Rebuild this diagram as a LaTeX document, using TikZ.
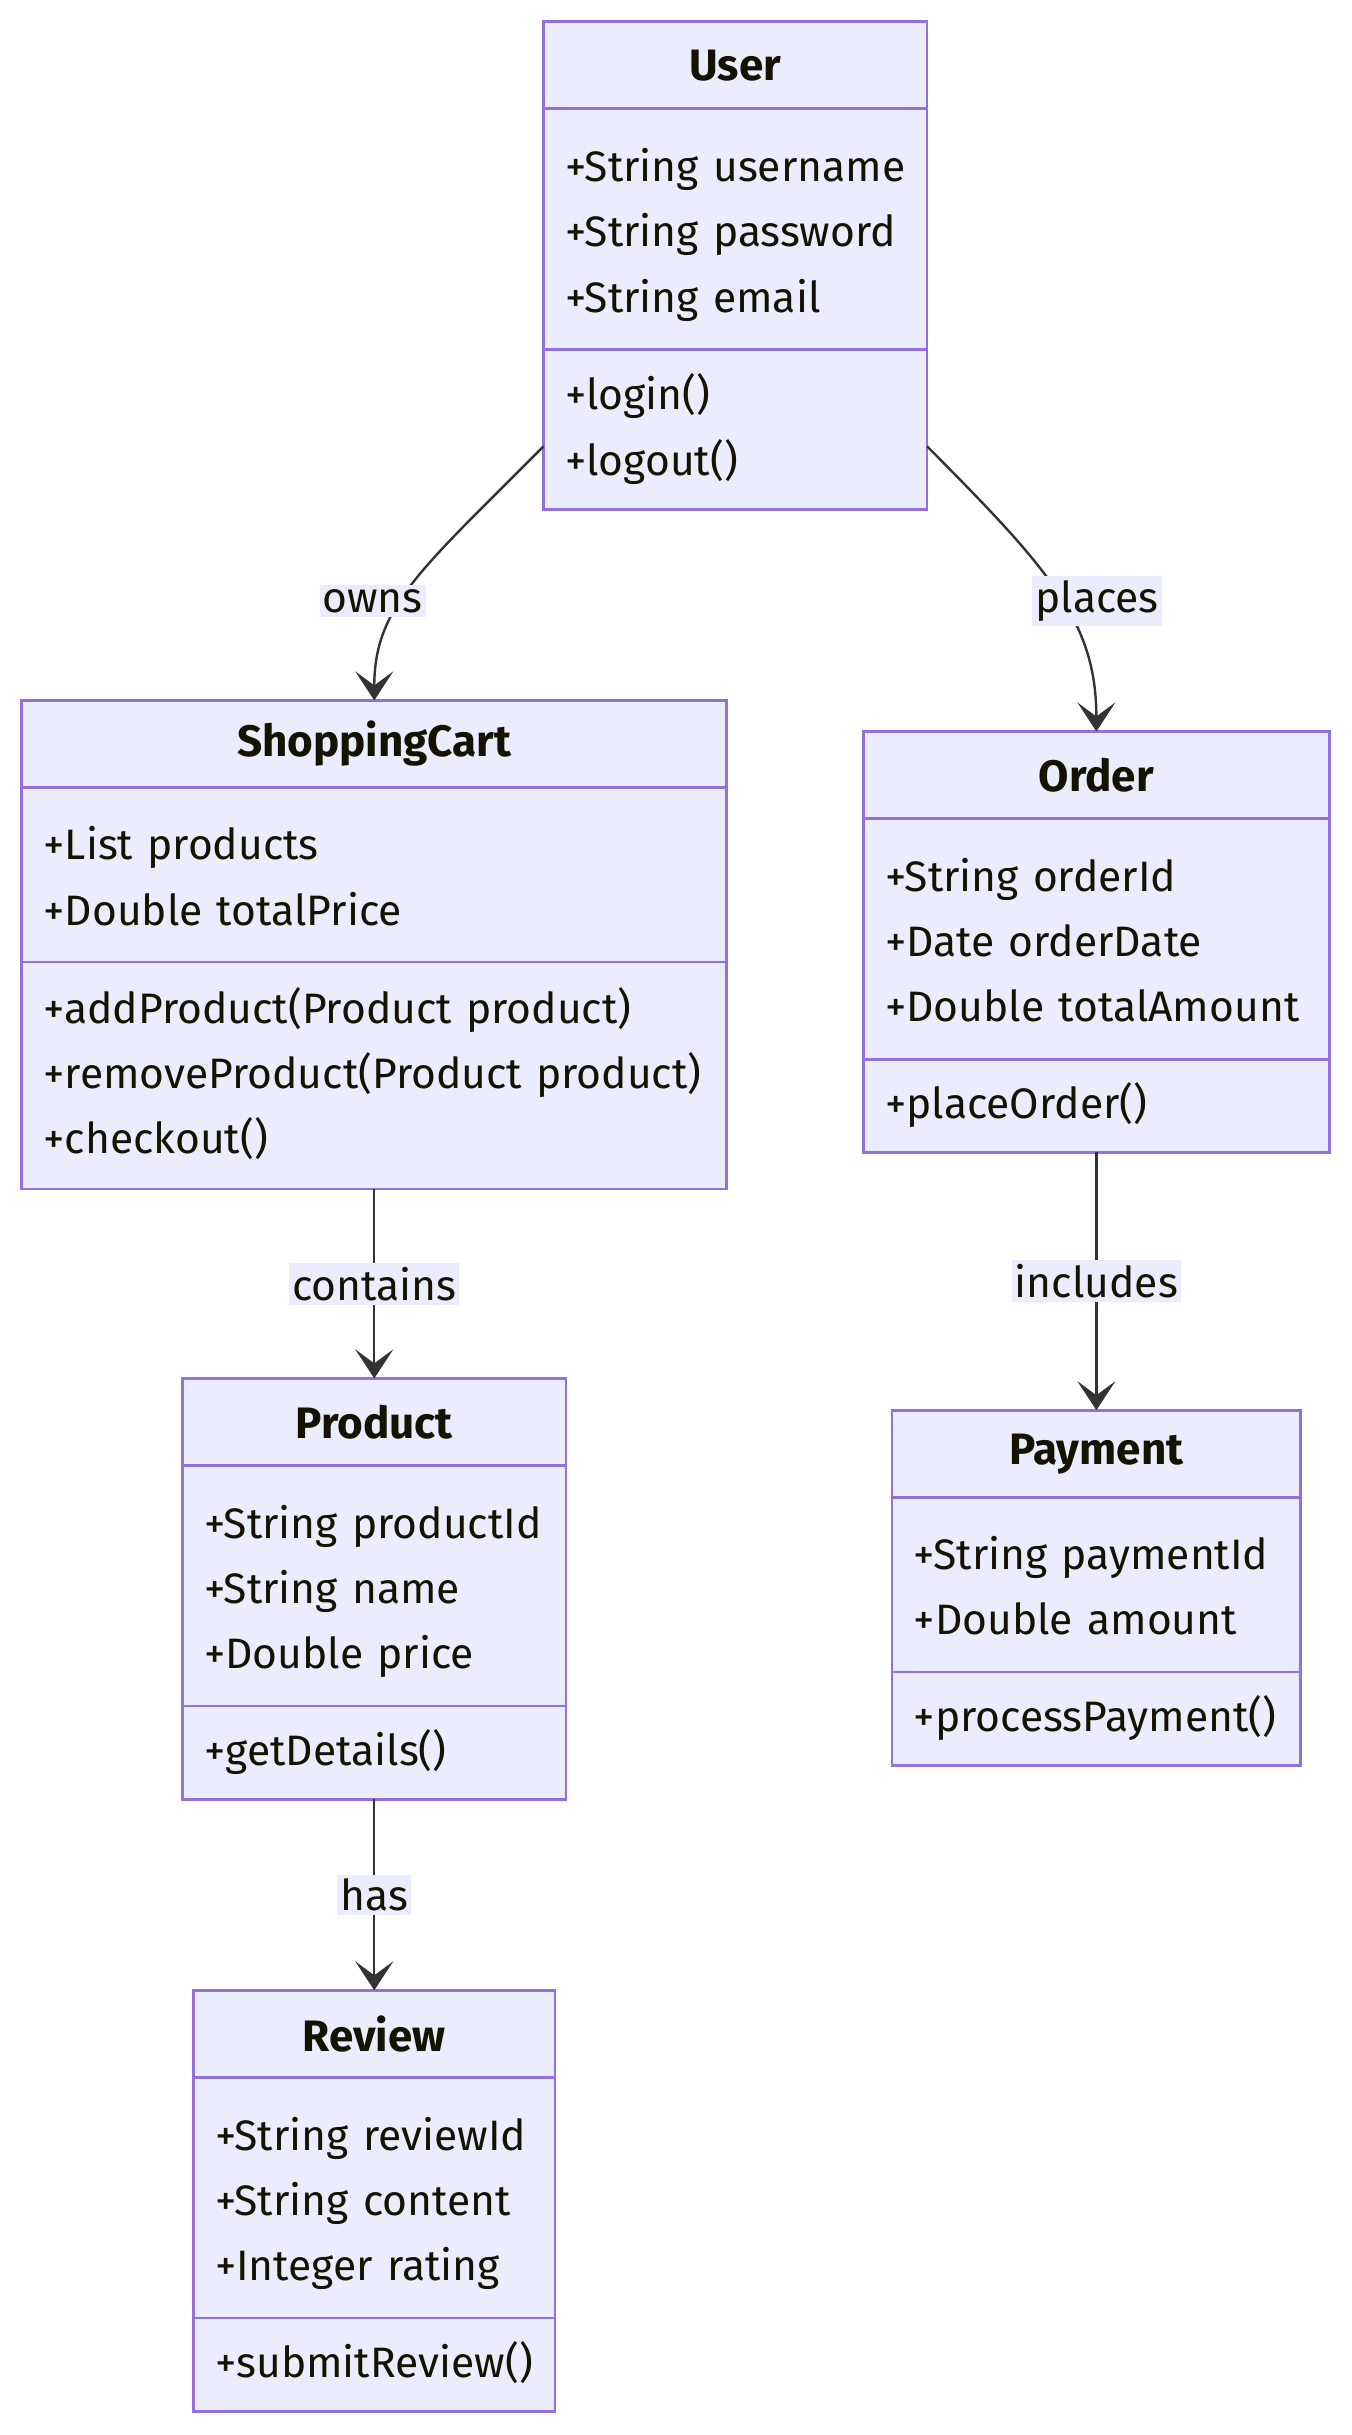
\documentclass[tikz,border=0pt]{standalone}
\usepackage{fontspec}
\setmainfont{Fira Sans}
\usetikzlibrary{positioning, arrows.meta}

\definecolor{classfill}{HTML}{ECECFF}
\definecolor{classline}{HTML}{9370DB}
\definecolor{edgeline}{HTML}{333333}
\definecolor{classtext}{HTML}{131300}

\newcommand{\classfont}{\fontsize{21.3}{32.6}\selectfont}
\newcommand{\headfont}{\fontsize{22}{32.6}\selectfont\bfseries}
% one member per row, never broken
\newcommand{\members}[1]{\begin{tabular}{@{}l@{}}#1\end{tabular}}
% attributes sit a little lower
\newcommand{\attrs}[1]{\members{\rule{0pt}{27.5pt}#1}}

\begin{document}
\begin{tikzpicture}[x=0.7765pt, y=-0.7765pt,
    every node/.style={text=classtext, font=\classfont, outer sep=0pt},
    head/.style={draw=classline, fill=classfill, line width=1.3pt, minimum height=43.5pt, font=\headfont, anchor=north},
    part/.style={draw=classline, fill=classfill, line width=1.3pt, align=left, inner xsep=10.9pt, inner ysep=0pt},
    assoc/.style={draw=edgeline, line width=1.2pt, -{Stealth[length=14.5pt, width=19pt, inset=7pt]}},
    lbl/.style={fill=classfill, inner xsep=1.5pt, inner ysep=2pt}]
    \fill[white] (0,0) rectangle (870,1568);

    % classes
    \node [head, minimum width=191.8pt] (user) at (473.5,14) {User};
    \node [part, below=0pt of user, text width=170pt, minimum height=120.4pt] (user-attr) {\attrs{+String username\\+String password\\+String email}};
    \node [part, below=0pt of user-attr, text width=170pt, minimum height=80pt] (user-ops) {\members{+login()\\+logout()}};

    \node [head, minimum width=352.5pt] (cart) at (241,451) {ShoppingCart};
    \node [part, below=0pt of cart, text width=330.7pt, minimum height=87.4pt] (cart-attr) {\attrs{+List products\\+Double totalPrice}};
    \node [part, below=0pt of cart-attr, text width=330.7pt, minimum height=113.4pt] (cart-ops) {\members{+addProduct(Product product)\\+removeProduct(Product product)\\+checkout()}};

    \node [head, minimum width=233pt] (order) at (706,471) {Order};
    \node [part, below=0pt of order, text width=211.2pt, minimum height=120.4pt] (order-attr) {\attrs{+String orderId\\+Date orderDate\\+Double totalAmount}};
    \node [part, below=0pt of order-attr, text width=211.2pt, minimum height=46.6pt] (order-ops) {\members{+placeOrder()}};

    \node [head, minimum width=191.8pt, below=94.7pt of cart-ops] (product) {Product};
    \node [part, below=0pt of product, text width=170pt, minimum height=120.4pt] (product-attr) {\attrs{+String productId\\+String name\\+Double price}};
    \node [part, below=0pt of product-attr, text width=170pt, minimum height=46.6pt] (product-ops) {\members{+getDetails()}};

    \node [head, minimum width=204.2pt, below=128.9pt of order-ops] (payment) {Payment};
    \node [part, below=0pt of payment, text width=182.4pt, minimum height=87.4pt] (payment-attr) {\attrs{+String paymentId\\+Double amount}};
    \node [part, below=0pt of payment-attr, text width=182.4pt, minimum height=46.6pt] (payment-ops) {\members{+processPayment()}};

    \node [head, minimum width=180.9pt, below=95.5pt of product-ops] (review) {Review};
    \node [part, below=0pt of review, text width=159.1pt, minimum height=120.4pt] (review-attr) {\attrs{+String reviewId\\+String content\\+Integer rating}};
    \node [part, below=0pt of review-attr, text width=159.1pt, minimum height=46.6pt] (review-ops) {\members{+submitReview()}};

    % associations
    \draw [assoc] (user-ops.185) .. controls (272,366) and (241,390) .. (cart.north);
    \draw [assoc] (user-ops.355) .. controls (675,366) and (706,400) .. (order.north);
    \node [lbl] (owns) at (240,387) {owns};
    \node [lbl] (places) at (706.5,387) {places};
    \draw [assoc] (cart-ops) -- node [lbl] (contains) {contains} (product);
    \draw [assoc] (order-ops) -- node [lbl] (includes) {includes} (payment);
    \draw [assoc] (product-ops) -- node [lbl] (has) {has} (review);
\end{tikzpicture}
\end{document}
